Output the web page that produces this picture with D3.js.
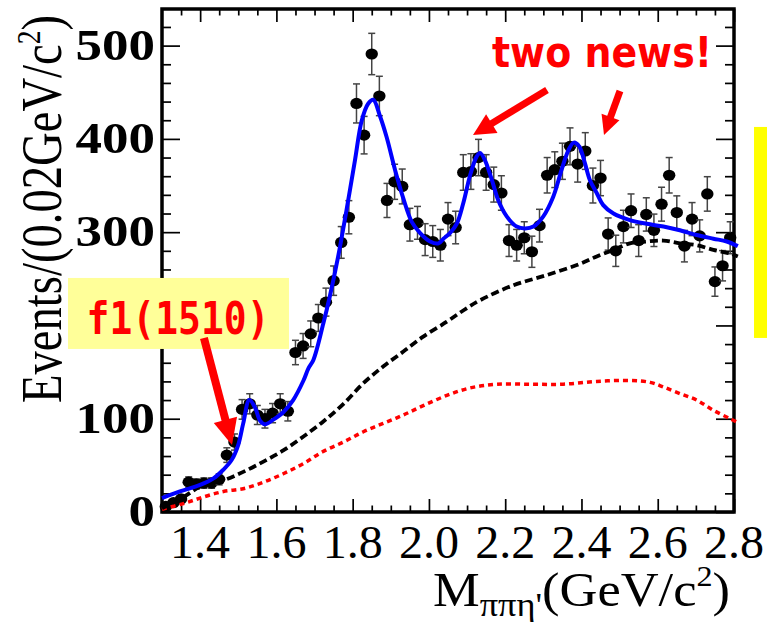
<html>
<head>
<script src="https://d3js.org/d3.v7.min.js"></script>
<style>
body { margin: 0; background: #fff; }
text { font-family: "Liberation Serif", "Times New Roman", serif; fill: #000; }
text.note { font-weight: bold; fill: #ff0000; }
</style>
</head>
<body>
<div id="plot"></div>
<script>
var width = 767, height = 622;

// histogram: 75 bins of 0.02 GeV from 1.30 to 2.80
var binLow = 1.30, binWidth = 0.02;
var counts = [
  6, 10, 14, 32, 30, 31, 31, 35, 61, 75,
  110, 116, 104, 100, 106, 116, 108, 171, 178, 191,
  208, 225, 248, 289, 316, 438, 404, 491, 446, 334,
  354, 349, 308, 310, 292, 290, 286, 314, 305, 364,
  365, 380, 364, 351, 342, 291, 286, 294, 279, 307,
  361, 367, 376, 392, 373, 387, 350, 358, 298, 280,
  306, 323, 291, 319, 302, 330, 361, 321, 285, 314,
  296, 341, 247, 264, 294
];

// total fit (blue)
var fitX = [1.30, 1.347, 1.40, 1.435, 1.46, 1.483, 1.50, 1.513, 1.529, 1.544, 1.557, 1.57, 1.592, 1.618, 1.644, 1.671, 1.684,
  1.697, 1.723, 1.74, 1.762, 1.784, 1.806, 1.824, 1.841, 1.854, 1.872, 1.889, 1.911, 1.933, 1.955, 1.977, 2.003, 2.025,
  2.038, 2.055, 2.073, 2.09, 2.108, 2.125, 2.134, 2.147, 2.165, 2.182, 2.204, 2.23, 2.252, 2.274, 2.30, 2.326, 2.348,
  2.366, 2.38, 2.394, 2.409, 2.422, 2.44, 2.457, 2.484, 2.527, 2.571, 2.615, 2.658, 2.702, 2.746, 2.781, 2.81];
var fitY = [15, 22, 29, 36, 45, 56, 72, 95, 120, 112, 98, 94, 99, 107, 120, 141, 154,
  163, 202, 231, 274, 324, 377, 420, 438, 442, 424, 402, 367, 336, 311, 299, 290, 288,
  293, 299, 309, 331, 361, 381, 385, 377, 356, 334, 317, 306, 304, 306, 317, 338, 367,
  388, 396, 392, 374, 356, 342, 329, 320, 313, 309, 306, 302, 297, 293, 290, 285];

// background (black dashed)
var bkgX = [1.30, 1.356, 1.408, 1.461, 1.513, 1.566, 1.618, 1.671, 1.723, 1.776, 1.828, 1.88, 1.933, 1.985, 2.047,
  2.09, 2.134, 2.221, 2.309, 2.396, 2.44, 2.484, 2.527, 2.571, 2.615, 2.658, 2.702, 2.746, 2.79, 2.81];
var bkgY = [4, 16, 29, 34, 43, 54, 66, 81, 97, 116, 138, 156, 172, 188, 204,
  216, 227, 243, 254, 266, 274, 281, 288, 290, 291, 288, 286, 281, 277, 274];

// second background (red dotted)
var bkg2X = [1.30, 1.356, 1.408, 1.461, 1.513, 1.566, 1.618, 1.671, 1.723, 1.776, 1.828, 1.88, 1.933, 1.985, 2.047,
  2.108, 2.178, 2.265, 2.352, 2.44, 2.527, 2.58, 2.615, 2.658, 2.702, 2.746, 2.79, 2.81];
var bkg2Y = [3, 9, 16, 22, 25, 32, 41, 52, 65, 75, 86, 95, 104, 114, 125,
  133, 137, 137, 137, 140, 141, 139, 134, 127, 120, 109, 100, 96];

var xMajor = [1.4, 1.6, 1.8, 2.0, 2.2, 2.4, 2.6, 2.8];
var xMinor = [1.35, 1.45, 1.5, 1.55, 1.65, 1.7, 1.75, 1.85, 1.9, 1.95, 2.05, 2.1, 2.15, 2.25, 2.3, 2.35, 2.45, 2.5, 2.55, 2.65, 2.7, 2.75];
var yMajor = [0, 100, 200, 300, 400, 500];
var yMinor = [20, 40, 60, 80, 120, 140, 160, 180, 220, 240, 260, 280, 320, 340, 360, 380, 420, 440, 460, 480, 520];
// the "200" label sits under the f1(1510) box in the original
var yLabels = [0, 100, 300, 400, 500];

var svg = d3.select("#plot").append("svg").attr("width", width).attr("height", height);

var x = d3.scaleLinear().domain([1.3, 2.8]).range([162, 734]);
var y = d3.scaleLinear().domain([0, 540]).range([512, 8.3]);

// yellow bar at the right edge
svg.append("rect").attr("x", x(2.8525)).attr("y", y(412.8))
  .attr("width", x(2.887) - x(2.8525)).attr("height", y(186.6) - y(412.8))
  .attr("fill", "#ffff00");

// ticks on all four sides, pointing inward
function ticks(axisFn, scale, vals, size, transform) {
  svg.append("g").attr("transform", transform)
    .call(axisFn(scale).tickValues(vals).tickSize(size).tickFormat(""))
    .call(function (g) {
      g.select(".domain").remove();
      g.selectAll("line").attr("stroke", "#000").attr("stroke-width", 1.7);
    });
}
ticks(d3.axisBottom, x, xMajor, -13, "translate(0,512)");
ticks(d3.axisBottom, x, xMinor, -6.5, "translate(0,512)");
ticks(d3.axisTop, x, xMajor, -13, "translate(0,9)");
ticks(d3.axisTop, x, xMinor, -6.5, "translate(0,9)");
ticks(d3.axisLeft, y, yMajor, -18, "translate(162,0)");
ticks(d3.axisLeft, y, yMinor, -9, "translate(162,0)");
ticks(d3.axisRight, y, yMajor, -18, "translate(734,0)");
ticks(d3.axisRight, y, yMinor, -9, "translate(734,0)");

// frame
svg.append("rect").attr("x", 162).attr("y", 9).attr("width", 734 - 162).attr("height", 512 - 9)
  .attr("fill", "none").attr("stroke", "#000").attr("stroke-width", 3.5);

// tick labels
svg.selectAll("text.ylab").data(yLabels).enter().append("text")
  .attr("class", "ylab")
  .attr("x", 155).attr("y", function (d) { return y(d) + 14; })
  .attr("text-anchor", "end").attr("font-size", 44).attr("font-weight", "bold")
  .attr("textLength", function (d) { return String(d).length * 26.5; })
  .attr("lengthAdjust", "spacingAndGlyphs")
  .text(function (d) { return d; });

svg.selectAll("text.xlab").data(xMajor).enter().append("text")
  .attr("class", "xlab")
  .attr("x", function (d) { return x(d); }).attr("y", 557.5)
  .attr("text-anchor", "middle").attr("font-size", 46)
  .attr("textLength", 60).attr("lengthAdjust", "spacingAndGlyphs")
  .text(d3.format(".1f"));

// axis titles
var yt = svg.append("text")
  .attr("transform", "translate(61,403) rotate(-90)")
  .attr("font-size", 56).attr("textLength", 388).attr("lengthAdjust", "spacingAndGlyphs");
yt.append("tspan").text("Events/(0.02GeV/c");
yt.append("tspan").attr("dy", -21).attr("font-size", 33).text("2");
yt.append("tspan").attr("dy", 21).text(")");

var xt = svg.append("text")
  .attr("x", 433).attr("y", 606)
  .attr("font-size", 49).attr("textLength", 297).attr("lengthAdjust", "spacingAndGlyphs");
xt.append("tspan").text("M");
xt.append("tspan").attr("dy", 10).attr("font-size", 34).text("\u03c0\u03c0\u03b7'");
xt.append("tspan").attr("dy", -10).text("(GeV/c");
xt.append("tspan").attr("dy", -20).attr("font-size", 30).text("2");
xt.append("tspan").attr("dy", 20).text(")");

// data points with Poisson error bars
var points = counts.map(function (c, i) {
  return { x: binLow + binWidth * (i + 0.5), y: c, err: Math.sqrt(c) };
});

var pts = svg.append("g").selectAll("g").data(points).enter().append("g");
pts.append("line")
  .attr("x1", function (d) { return x(d.x); }).attr("x2", function (d) { return x(d.x); })
  .attr("y1", function (d) { return y(d.y - d.err); }).attr("y2", function (d) { return y(d.y + d.err); })
  .attr("stroke", "#444").attr("stroke-width", 1.5);
[-1, 1].forEach(function (s) {
  pts.append("line")
    .attr("x1", function (d) { return x(d.x) - 3.5; }).attr("x2", function (d) { return x(d.x) + 3.5; })
    .attr("y1", function (d) { return y(d.y + s * d.err); }).attr("y2", function (d) { return y(d.y + s * d.err); })
    .attr("stroke", "#444").attr("stroke-width", 1.5);
});
pts.append("ellipse")
  .attr("cx", function (d) { return x(d.x); }).attr("cy", function (d) { return y(d.y); })
  .attr("rx", 6.2).attr("ry", 5.6).attr("fill", "#000");

// curves
function curve(xs, ys, color, dash, w) {
  var line = d3.line()
    .x(function (d, i) { return x(xs[i]); })
    .y(function (d, i) { return y(ys[i]); })
    .curve(d3.curveCatmullRom.alpha(0.5));
  svg.append("path").attr("d", line(xs))
    .attr("fill", "none").attr("stroke", color).attr("stroke-width", w)
    .attr("stroke-dasharray", dash);
}
curve(bkg2X, bkg2Y, "#ff0000", "5,4", 3.5);
curve(bkgX, bkgY, "#000", "8,4", 3.8);
curve(fitX, fitY, "#0000ff", null, 4);

// red arrows
function arrow(x0, y0, x1, y1, w, len, half) {
  var px0 = x(x0), py0 = y(y0), px1 = x(x1), py1 = y(y1);
  var dx = px1 - px0, dy = py1 - py0, n = Math.sqrt(dx * dx + dy * dy);
  var ux = dx / n, uy = dy / n;
  var bx = px1 - ux * len, by = py1 - uy * len;
  svg.append("line").attr("x1", px0).attr("y1", py0).attr("x2", bx + ux * 2).attr("y2", by + uy * 2)
    .attr("stroke", "#ff0000").attr("stroke-width", w);
  svg.append("path")
    .attr("d", "M" + px1 + "," + py1 + "L" + (bx - uy * half) + "," + (by + ux * half) +
      "L" + (bx + uy * half) + "," + (by - ux * half) + "Z")
    .attr("fill", "#ff0000");
}

// f1(1510) label
svg.append("rect").attr("x", x(1.0535)).attr("y", y(250.9))
  .attr("width", x(1.633) - x(1.0535)).attr("height", y(174.8) - y(250.9))
  .attr("fill", "#ffff99");
svg.append("text").attr("class", "note").attr("x", x(1.1022)).attr("y", y(191))
  .style("font-family", "'DejaVu Sans Mono', monospace")
  .attr("font-size", 44)
  .attr("textLength", 183).attr("lengthAdjust", "spacingAndGlyphs")
  .text("f1(1510)");
arrow(1.410, 186.6, 1.4836, 71.8, 8, 26, 12);

// two news!
svg.append("text").attr("class", "note").attr("x", x(2.1654)).attr("y", y(477))
  .style("font-family", "'Comic Sans MS', 'DejaVu Sans', sans-serif")
  .attr("font-size", 42)
  .attr("textLength", 220).attr("lengthAdjust", "spacingAndGlyphs")
  .text("two news!");
arrow(2.3096, 452.5, 2.1156, 404.2, 7, 22, 11);
arrow(2.501, 451.4, 2.4591, 404.2, 7, 19, 9.5);
</script>
</body>
</html>
